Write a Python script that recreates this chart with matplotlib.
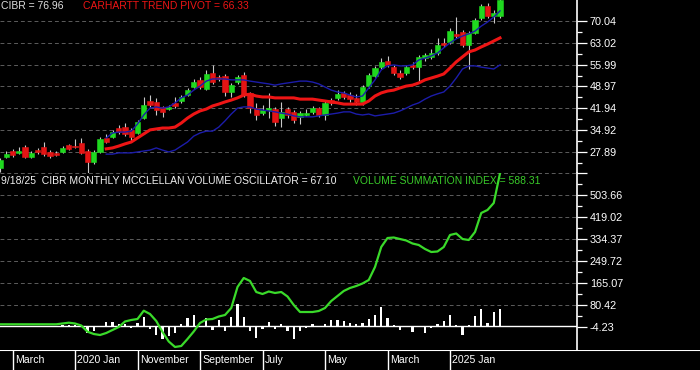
import matplotlib
matplotlib.use("Agg")
import matplotlib.pyplot as plt

plt.rcParams['font.family'] = ['Liberation Sans', 'DejaVu Sans']

# monthly candles, Jan 2019 .. Sep 2025
opens = [22.7, 26.3, 28.2, 27.6, 29.5, 26.3, 28.5, 29.5, 27.9, 27.6,
         27.9, 30.1, 29.8, 30.8, 28.2, 24.7, 27.9, 32.4, 32.7, 35.6,
         35.9, 35.0, 34.0, 38.8, 44.3, 44.0, 42.4, 41.7, 43.7, 44.3,
         46.2, 48.8, 51.1, 48.2, 53.3, 52.0, 52.3, 47.2, 50.4, 52.7,
         46.9, 42.0, 40.4, 41.4, 41.7, 38.8, 41.7, 40.8, 39.1, 39.8,
         40.8, 42.0, 39.8, 44.6, 45.3, 46.9, 46.2, 45.3, 44.0, 49.1,
         52.3, 55.2, 57.2, 55.2, 53.3, 53.3, 55.9, 55.2, 58.1, 58.5,
         59.7, 63.0, 63.3, 65.9, 66.5, 62.3, 66.2, 71.0, 74.9, 71.7,
         71.7]
closes = [25.3, 27.2, 26.9, 28.2, 26.3, 27.6, 27.9, 27.2, 26.6, 26.9,
          29.2, 28.8, 29.5, 27.6, 24.7, 27.9, 32.1, 31.1, 34.3, 34.3,
          33.7, 32.7, 37.5, 43.0, 43.0, 41.4, 40.8, 42.4, 42.7, 45.6,
          47.8, 50.4, 48.8, 53.0, 50.4, 51.4, 47.2, 49.4, 52.0, 46.2,
          42.0, 39.8, 41.4, 42.0, 37.5, 40.8, 39.8, 38.2, 40.4, 40.4,
          42.0, 39.8, 43.7, 43.7, 46.6, 45.6, 44.9, 44.0, 48.8, 52.7,
          54.9, 56.9, 55.9, 53.3, 52.0, 55.2, 55.2, 58.5, 59.1, 59.7,
          62.3, 62.3, 66.8, 65.2, 62.3, 66.2, 70.4, 74.9, 71.7, 72.6,
          76.96]
highs = [25.9, 28.2, 28.8, 29.5, 30.1, 28.2, 29.2, 31.1, 28.5, 28.2,
         29.8, 30.5, 32.1, 32.4, 28.8, 28.5, 32.7, 33.7, 35.0, 36.6,
         37.2, 35.6, 38.2, 45.6, 46.2, 45.3, 42.7, 43.0, 45.6, 46.2,
         48.5, 51.4, 52.0, 54.3, 55.9, 52.7, 53.0, 50.1, 52.7, 53.6,
         47.2, 43.7, 43.0, 46.9, 42.4, 44.0, 42.4, 41.4, 41.1, 41.7,
         42.7, 42.4, 44.3, 45.3, 47.8, 47.5, 47.2, 46.6, 49.4, 53.3,
         55.6, 58.1, 58.8, 55.9, 54.3, 55.9, 56.9, 59.1, 59.7, 61.0,
         64.6, 64.6, 67.8, 71.3, 67.1, 66.8, 71.0, 75.5, 75.8, 73.6,
         77.0]
lows = [21.5, 25.9, 26.3, 27.2, 25.9, 25.9, 27.2, 26.6, 26.0, 26.6,
        27.6, 28.5, 29.2, 27.2, 21.0, 24.1, 27.6, 30.8, 32.4, 33.7,
        33.0, 31.4, 33.7, 38.5, 42.4, 39.8, 39.2, 41.4, 42.0, 43.7,
        45.9, 48.5, 48.2, 47.8, 49.8, 50.7, 45.9, 45.6, 49.8, 45.6,
        40.4, 38.2, 39.8, 38.8, 36.2, 35.9, 38.8, 37.2, 36.9, 39.5,
        40.1, 39.1, 38.2, 43.0, 44.6, 44.9, 44.0, 43.0, 43.0, 48.5,
        52.0, 54.6, 55.2, 52.7, 51.4, 52.7, 54.6, 50.4, 57.2, 57.8,
        59.1, 61.7, 62.6, 64.6, 61.7, 54.6, 65.9, 70.4, 71.0, 69.4,
        71.0]

# trend pivot and bands start at month 17
line_start = 17
pivot = [28.9, 29.2, 29.8, 30.5, 31.1, 32.4, 33.7, 35.0, 35.3, 35.6,
         35.6, 35.9, 37.2, 38.8, 40.1, 41.1, 41.7, 42.7, 43.3, 44.0,
         44.6, 45.3, 46.2, 46.5, 45.9, 45.6, 45.6, 45.3, 45.3, 45.3,
         45.3, 44.9, 44.9, 44.9, 44.6, 44.3, 44.0, 43.7, 43.3, 43.3,
         43.3, 43.3, 44.3, 45.9, 46.9, 47.5, 47.8, 48.5, 49.1, 49.4,
         50.1, 51.1, 51.7, 52.3, 53.0, 54.9, 56.9, 58.5, 60.1, 60.7,
         61.7, 62.6, 63.6, 64.6]
band_up = [32.4, 34.0, 34.3, 34.3, 34.6, 36.9, 39.8, 42.0, 42.4, 42.0,
           42.4, 43.7, 45.3, 46.2, 47.8, 49.1, 50.7, 51.4, 51.4, 51.4,
           51.1, 51.1, 51.1, 50.7, 50.4, 50.1, 49.8, 49.4, 49.8, 50.1,
           50.4, 50.7, 50.7, 50.4, 49.8, 48.8, 47.8, 47.2, 46.9, 46.2,
           45.6, 45.9, 48.5, 51.1, 54.3, 55.6, 55.9, 55.6, 55.6, 55.9,
           57.5, 58.1, 58.8, 59.7, 61.4, 63.0, 64.3, 65.2, 65.9, 66.8,
           68.4, 69.7, 71.3, 73.3]
band_lo = [27.2, 27.2, 27.6, 27.6, 27.6, 27.9, 28.2, 28.5, 29.2, 28.5,
           27.9, 28.5, 29.8, 31.1, 33.0, 34.0, 34.6, 34.6, 35.9, 37.9,
           40.1, 42.0, 42.4, 42.4, 41.7, 41.4, 41.1, 40.8, 40.4, 40.1,
           39.5, 39.2, 39.2, 39.2, 39.5, 39.8, 40.1, 40.4, 40.8, 40.8,
           40.1, 39.8, 40.1, 39.5, 39.8, 40.1, 40.4, 41.1, 42.0, 43.0,
           43.7, 44.9, 45.9, 46.6, 47.2, 49.1, 51.7, 54.6, 55.6, 55.6,
           55.2, 54.9, 54.6, 55.9]

# volume summation index and monthly mcclellan volume oscillator
vsi = [7.3, 7.3, 7.3, 7.3, 7.3, 7.3, 7.3, 7.3, 7.3, 7.3,
       10.4, 13.5, 10.4, 2.7, -21.2, -30.0, -33.9, -26.2, -14.6, -3.1,
       18.1, 23.9, 27.7, 59.6, 46.9, 20.0, -22.3, -58.9, -80.0, -76.2,
       -49.2, -20.4, 12.3, 25.8, 27.7, 37.3, 43.1, 70.0, 150.8, 185.5,
       174.0, 131.6, 123.9, 133.5, 127.8, 131.6, 114.3, 81.6, 54.6, 54.6,
       54.6, 58.5, 70.0, 97.0, 116.2, 135.5, 147.0, 154.7, 164.3, 177.8,
       227.8, 304.8, 339.4, 341.3, 335.5, 329.8, 318.2, 312.5, 297.1, 285.5,
       287.5, 304.8, 350.9, 356.7, 335.5, 331.7, 362.5, 435.6, 447.2, 474.1,
       588.31]
mvo = [0, 0, 0, 0, 0, 0, 0, 0, 0, 0,
       3, 4, 3, 0, -25, -19, 0, 15, 18, 10,
       7, -6, 14, 35, -11, -35, -51, -38, -25, 7,
       30, 45, -5, 32, -13, 22, -19, 35, 87, 35,
       -19, -47, -12, 17, -10, 7, -19, -49, -19, -6,
       7, 0, 10, 22, 22, 19, 13, 7, 14, 26,
       45, 73, 30, 3, -13, 0, -22, 0, -25, -6,
       7, 19, 45, 4, -32, 4, 38, 67, 13, 55,
       67.10]

date_labels = ["March", "2020 Jan", "November", "September", "July", "May", "March", "2025 Jan"]
date_idx = [2, 12, 22, 32, 42, 52, 62, 72]
price_ticks = [70.04, 63.02, 55.99, 48.97, 41.94, 34.92, 27.89]
osc_ticks = [588.31, 503.66, 419.02, 334.37, 249.72, 165.07, 80.42, -4.23]

W, H = 700, 370
fig = plt.figure(figsize=(7, 3.7), dpi=100, facecolor='black')
plot_w = 577 / W
ax1 = fig.add_axes([0, (H - 173) / H, plot_w, 173 / H])
ax2 = fig.add_axes([0, 20 / H, plot_w, 177 / H])
strip = fig.add_axes([0, 0, 1, 20 / H])

n = len(closes)
xs = list(range(n))
xmax = 577 / 6.25

grid_kw = dict(color='#5c5c5c', linestyle=(0, (4, 3)), linewidth=0.7)
for ax in (ax1, ax2):
    ax.set_facecolor('black')
    ax.set_xlim(0, xmax)
    for s in ('left', 'top', 'bottom'):
        ax.spines[s].set_visible(False)
    ax.spines['right'].set_color('white')
    ax.spines['right'].set_linewidth(1.2)
    ax.set_xticks([])
    ax.yaxis.tick_right()
    ax.tick_params(axis='y', which='major', length=7.2, width=0.9, colors='white',
                   labelsize=7.8, pad=2)
    ax.tick_params(axis='y', which='minor', length=3.6, width=0.9, colors='white')

# price panel
ax1.set_ylim(21.13, 76.80)
ax1.set_yticks(price_ticks)
ax1.set_yticklabels([f"{t:.2f}" for t in price_ticks])
ax1.set_yticks([(a + b) / 2 for a, b in zip(price_ticks[:-1], price_ticks[1:])] + [24.37], minor=True)
for t in price_ticks:
    ax1.axhline(t, zorder=1, **grid_kw)

body_bot = [min(o, c) for o, c in zip(opens, closes)]
body_h = [max(abs(c - o), 0.25) for o, c in zip(opens, closes)]
cols = ['#1fd81f' if c >= o else '#e41414' for o, c in zip(opens, closes)]
ax1.vlines(xs, lows, highs, color='#c8c8c8', linewidth=0.8, zorder=2)
ax1.bar(xs, body_h, bottom=body_bot, width=0.85, color=cols, edgecolor=cols,
        linewidth=0.4, zorder=3)

lx = list(range(line_start, n))
ax1.plot(lx, band_lo, color='#1c1caa', linewidth=1.0, zorder=4)
ax1.plot(lx, band_up, color='#1c1caa', linewidth=1.0, zorder=4)
ax1.plot(lx, pivot, color='#ee1515', linewidth=2.2, zorder=5)

# oscillator panel
ax2.set_ylim(-91.6, 589.5)
ax2.set_yticks(osc_ticks)
ax2.set_yticklabels([""] + [f"{t:.2f}" for t in osc_ticks[1:]])
ax2.set_yticks([(a + b) / 2 for a, b in zip(osc_ticks[:-1], osc_ticks[1:])], minor=True)
for t in osc_ticks[:-1]:
    ax2.axhline(t, zorder=1, **grid_kw)
ax2.axhline(0, color='white', linewidth=1.0, zorder=2)
ax2.bar(xs, mvo, width=0.35, color='white', zorder=3)
ax2.plot(xs, vsi, color='#3ada2a', linewidth=1.6, zorder=4)

# date strip
strip.set_facecolor('black')
strip.set_xlim(0, W / 6.25)
strip.set_ylim(0, 1)
strip.axis('off')
strip.axhline(1, color='white', linewidth=1.5)
strip.vlines(date_idx, 0, 1, color='white', linewidth=1.0)
for i, lab in zip(date_idx, date_labels):
    strip.text(i + 0.35, 0.5, lab, color='white', fontsize=7.6, va='center', ha='left')

def px_text(x, y, s, color):
    fig.text(x / W, 1 - y / H, s, color=color, fontsize=7.5, va='center', ha='left')

px_text(1, 6, "CIBR = 76.96", '#e0e0e0')
px_text(83, 6, "CARHARTT TREND PIVOT = 66.33", '#ee1515')
px_text(1, 181.5, "9/18/25  CIBR MONTHLY MCCLELLAN VOLUME OSCILLATOR = 67.10", '#f0f0f0')
px_text(353, 181.5, "VOLUME SUMMATION INDEX = 588.31", '#3acc2a')

fig.savefig("out.png", dpi=100, facecolor='black')
